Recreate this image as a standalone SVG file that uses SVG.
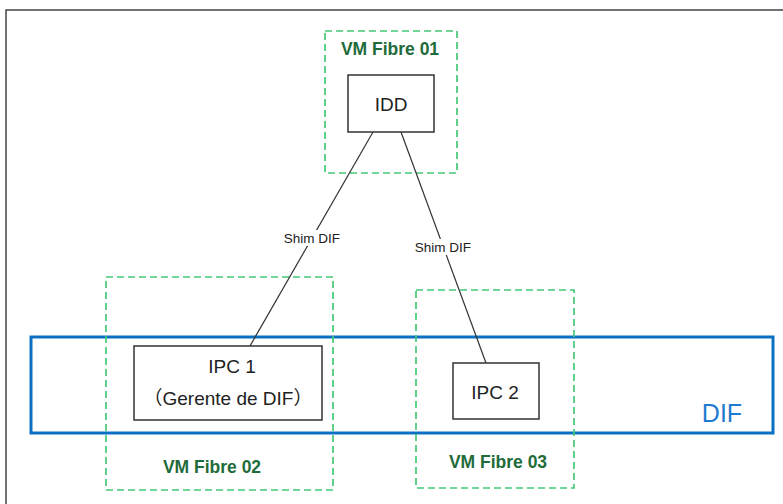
<svg xmlns="http://www.w3.org/2000/svg" width="783" height="504" viewBox="0 0 783 504">
<style>
.vm{fill:none;stroke:#43c977;stroke-width:1.7;stroke-dasharray:7 4}
.vmt{font-family:"Liberation Sans",Arial,sans-serif;font-weight:bold;font-size:17.5px;fill:#1f6b3a;text-anchor:middle}
.box{fill:#fff;stroke:#333;stroke-width:1.5}
.t{font-family:"Liberation Sans","Noto Sans CJK SC",Arial,sans-serif;font-size:19px;fill:#222;text-anchor:middle}
.edge{stroke:#333;stroke-width:1.2;fill:none}
.lbl{font-family:"Liberation Sans",Arial,sans-serif;font-size:13.5px;fill:#222;text-anchor:middle}
</style>
<rect x="0" y="0" width="783" height="504" fill="#fff"/>
<rect x="6" y="10" width="800" height="520" fill="none" stroke="#444" stroke-width="1.5"/>
<g id="dif">
<rect x="31" y="337" width="742" height="96" fill="none" stroke="#0a70c4" stroke-width="3"/>
<text x="722" y="422" font-family="Liberation Sans,Arial,sans-serif" font-size="25" fill="#1f7bd0" text-anchor="middle">DIF</text>
</g>
<g id="vm01">
<rect class="vm" x="325" y="31" width="132" height="142"/>
<text class="vmt" x="390" y="55">VM Fibre 01</text>
</g>
<g id="vm02">
<rect class="vm" x="106" y="277" width="227" height="213"/>
<text class="vmt" x="212" y="473">VM Fibre 02</text>
</g>
<g id="vm03">
<rect class="vm" x="416" y="290" width="158" height="198"/>
<text class="vmt" x="498" y="468">VM Fibre 03</text>
</g>
<g id="connectors">
<line class="edge" x1="373" y1="132" x2="250" y2="346"/>
<line class="edge" x1="401" y1="132" x2="486" y2="363"/>
<rect x="281" y="230" width="62" height="16" fill="#fff"/>
<text class="lbl" x="312" y="243">Shim DIF</text>
<rect x="412" y="239" width="62" height="16" fill="#fff"/>
<text class="lbl" x="443" y="252">Shim DIF</text>
</g>
<g id="idd">
<rect class="box" x="348" y="75" width="86" height="57"/>
<text class="t" x="391" y="111" font-size="20">IDD</text>
</g>
<g id="ipc1">
<rect class="box" x="134" y="346" width="188" height="74"/>
<text class="t" x="232" y="373">IPC 1</text>
<text class="t" x="228" y="405">（Gerente de DIF）</text>
</g>
<g id="ipc2">
<rect class="box" x="453" y="363" width="86" height="56"/>
<text class="t" x="495" y="399">IPC 2</text>
</g>
</svg>
